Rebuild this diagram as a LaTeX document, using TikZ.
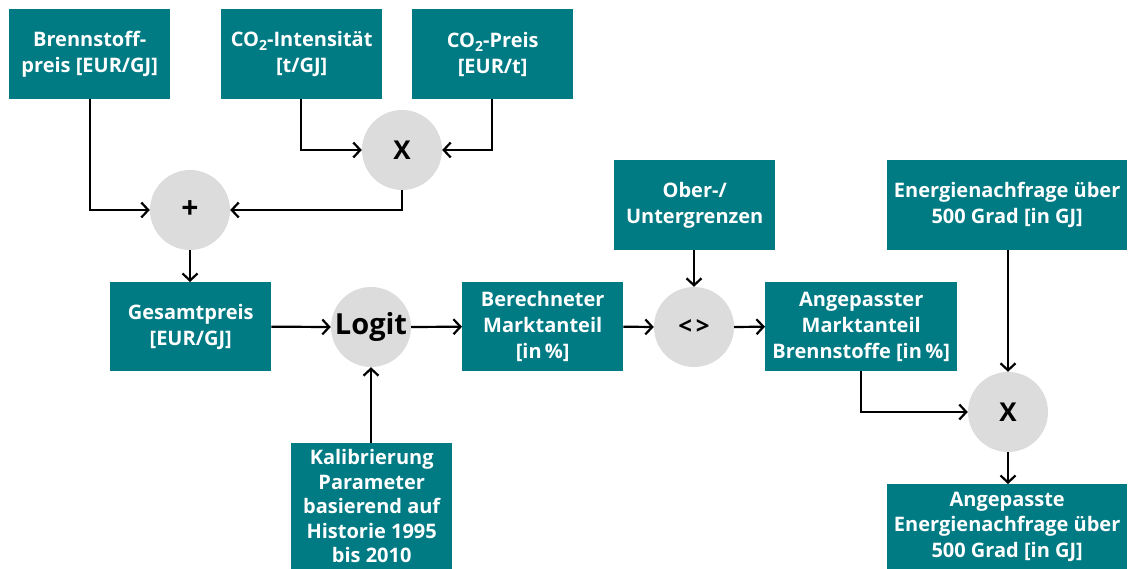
\documentclass[tikz,border=0pt]{standalone}
\usepackage{fontspec}
\setmainfont{Open Sans}
\usetikzlibrary{arrows.meta}
\definecolor{teal}{RGB}{0,122,131}
\definecolor{opgrey}{RGB}{220,220,220}
\newcommand\cosub{CO\raisebox{-4pt}{\fontsize{14}{14}\selectfont 2}}
\begin{document}
\begin{tikzpicture}[x=1pt,y=-1pt,
  box/.style={fill=teal,text=white,font=\fontsize{20}{26}\selectfont\bfseries,
    align=center,inner sep=0pt,anchor=north west},
  op/.style={circle,fill=opgrey,minimum size=80pt,inner sep=0pt,
    font=\fontsize{26}{26}\selectfont\bfseries},
  flow/.style={line width=2.2pt,-{Straight Barb[length=7pt,width=15pt,line width=2.2pt]}}]
\useasboundingbox (0,0) rectangle (1128,569);
% input boxes
\node[box,minimum width=161pt,minimum height=90pt] (brenn) at (9,9) {Brennstoff-\\preis [EUR/GJ]};
\node[box,minimum width=161pt,minimum height=90pt] (coint) at (221,9) {\cosub-Intensität\\{}[t/GJ]};
\node[box,minimum width=161pt,minimum height=90pt] (copreis) at (412,9) {\cosub-Preis\\{}[EUR/t]};
\node[box,minimum width=161pt,minimum height=90pt] (grenz) at (614,160) {Ober-/\\Untergrenzen};
\node[box,minimum width=240pt,minimum height=90pt] (nachfr) at (887,160) {Energienachfrage über\\500 Grad [in GJ]};
\node[box,minimum width=161pt,minimum height=89pt] (gesamt) at (110,282) {Gesamtpreis\\{}[EUR/GJ]};
\node[box,minimum width=161pt,minimum height=89pt] (berech) at (462,282) {Berechneter\\Marktanteil\\{}[in\,\%]};
\node[box,minimum width=192pt,minimum height=89pt] (angep) at (765,282) {Angepasster\\Marktanteil\\Brennstoffe [in\,\%]};
% the two bottom boxes reach the lower page edge
\node[box,minimum width=161pt,minimum height=126pt,
  font=\fontsize{20}{24.5}\selectfont\bfseries] (kalib) at (291,443) {Kalibrierung\\Parameter\\basierend auf\\Historie 1995\\bis 2010};
\node[box,minimum width=240pt,minimum height=85pt,
  font=\fontsize{20}{25.5}\selectfont\bfseries] (result) at (887,484) {Angepasste\\Energienachfrage über\\500 Grad [in GJ]};
% operators
\node[op] (mul1) at (402,150) {X};
\node[op,font=\fontsize{30}{30}\selectfont\bfseries] (plus) at (190,210) {+};
\node[op,font=\fontsize{29}{29}\selectfont\bfseries] (logit) at (371,327) {Logit};
\node[op,font=\fontsize{24}{24}\selectfont\bfseries] (clamp) at (694,327) {<\,>};
\node[op] (mul2) at (1008,412) {X};
% connectors
\draw[flow] (coint.south -| 301,0) |- (mul1.west);
\draw[flow] (copreis.south -| 492,0) |- (mul1.east);
\draw[flow] (brenn.south -| 90,0) |- (plus.west);
\draw[flow] (mul1.south) |- (plus.east);
\draw[flow] (plus.south) -- (plus.south |- gesamt.north);
\draw[flow] (gesamt.east) -- (logit.west);
\draw[flow] (kalib.north -| logit) -- (logit.south);
\draw[flow] (logit.east) -- (berech.west);
\draw[flow] (berech.east) -- (clamp.west);
\draw[flow] (grenz.south -| clamp) -- (clamp.north);
\draw[flow] (clamp.east) -- (angep.west);
\draw[flow] (angep.south -| 861,0) |- (mul2.west);
\draw[flow] (nachfr.south -| mul2) -- (mul2.north);
\draw[flow] (mul2.south) -- (mul2.south |- result.north);
\end{tikzpicture}
\end{document}
